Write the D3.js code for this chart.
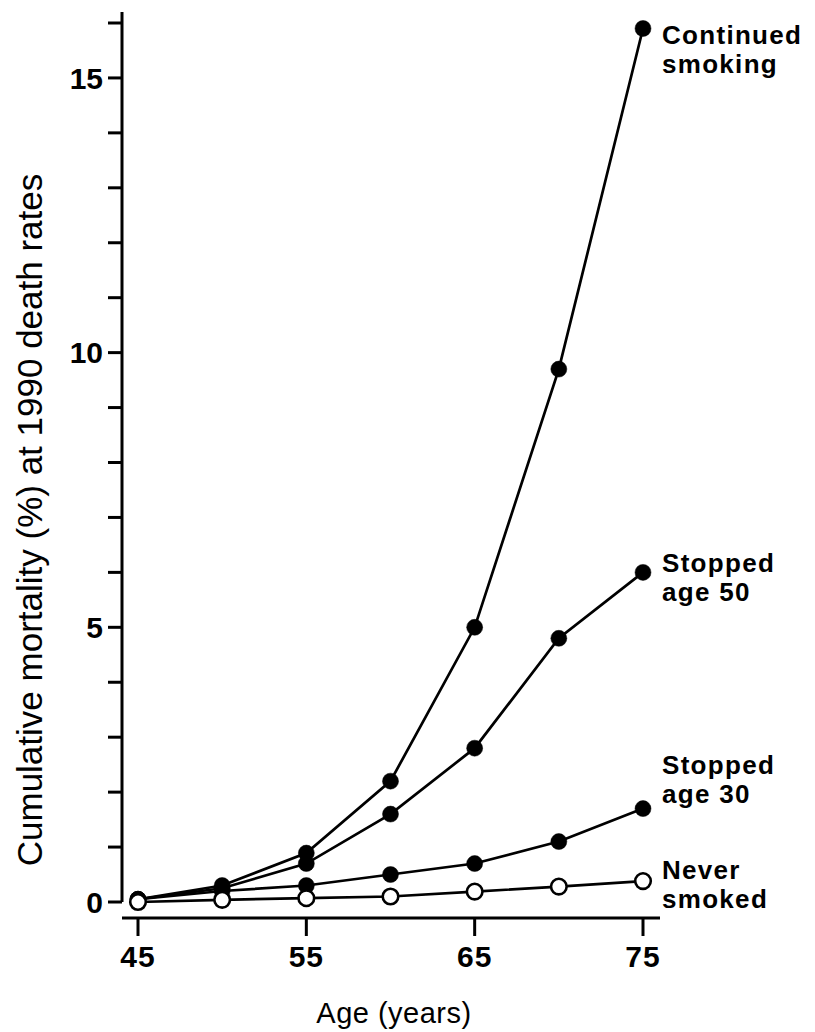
<!DOCTYPE html>
<html><head><meta charset="utf-8">
<script src="https://cdn.jsdelivr.net/npm/d3@7"></script>
<style>
body{margin:0;background:#fff;}
svg{display:block;}
text{font-family:"Liberation Sans",Arial,Helvetica,sans-serif;fill:#000;}
</style></head>
<body>
<svg id="chart" width="815" height="1032"></svg>
<script>
const ages = [45, 50, 55, 60, 65, 70, 75];
const continuedSmoking = [0.05, 0.3, 0.89, 2.2, 5.0, 9.7, 15.9];
const stoppedAge50 = [0.05, 0.25, 0.7, 1.6, 2.8, 4.8, 6.0];
const stoppedAge30 = [0.05, 0.2, 0.3, 0.5, 0.7, 1.1, 1.7];
const neverSmoked = [0.0, 0.04, 0.07, 0.1, 0.19, 0.28, 0.38];
const seriesNames = [["Continued", "smoking"], ["Stopped", "age 50"], ["Stopped", "age 30"], ["Never", "smoked"]];
const xTickLabels = [45, 55, 65, 75];
const yTickLabels = [0, 5, 10, 15];
const yMinorTicks = d3.range(0, 17);

const series = [
  {name: seriesNames[0], values: continuedSmoking, open: false, dy: 16},
  {name: seriesNames[1], values: stoppedAge50, open: false, dy: 0},
  {name: seriesNames[2], values: stoppedAge30, open: false, dy: -35},
  {name: seriesNames[3], values: neverSmoked, open: true, dy: -2}
];

const svg = d3.select("#chart");
const x = d3.scaleLinear().domain([45, 75]).range([138, 643]);
const y = d3.scaleLinear().domain([0, 16]).range([902, 23]);

// Y axis
const yAxisX = 122;
const gy = svg.append("g").attr("transform", `translate(${yAxisX},0)`);
gy.append("line").attr("x1", 0).attr("x2", 0).attr("y1", 12).attr("y2", y(0))
  .attr("stroke", "#000").attr("stroke-width", 3);
gy.selectAll("line.tick").data(yMinorTicks).join("line").attr("class", "tick")
  .attr("x1", -14).attr("x2", 0).attr("y1", d => y(d)).attr("y2", d => y(d))
  .attr("stroke", "#000").attr("stroke-width", 3);
gy.selectAll("text.tl").data(yTickLabels).join("text").attr("class", "tl")
  .attr("x", -19).attr("y", d => y(d)).attr("dy", "0.36em")
  .attr("text-anchor", "end").attr("font-size", 30).attr("font-weight", "bold")
  .text(d => d);

// X axis
const xAxisY = 918;
const gx = svg.append("g").attr("transform", `translate(0,${xAxisY})`);
gx.append("line").attr("x1", yAxisX).attr("x2", 660).attr("y1", 0).attr("y2", 0)
  .attr("stroke", "#000").attr("stroke-width", 3);
gx.selectAll("line.tick").data(xTickLabels).join("line").attr("class", "tick")
  .attr("x1", d => x(d)).attr("x2", d => x(d)).attr("y1", 0).attr("y2", 18)
  .attr("stroke", "#000").attr("stroke-width", 3);
gx.selectAll("text.tl").data(xTickLabels).join("text").attr("class", "tl")
  .attr("x", d => x(d)).attr("y", 49)
  .attr("text-anchor", "middle").attr("font-size", 30).attr("font-weight", "bold")
  .attr("letter-spacing", 1)
  .text(d => d);

// Axis titles
svg.append("text").attr("x", 394).attr("y", 1023).attr("text-anchor", "middle")
  .attr("font-size", 29).attr("letter-spacing", 0.5).text("Age (years)");
svg.append("text").attr("transform", "translate(42,520) rotate(-90)")
  .attr("text-anchor", "middle").attr("font-size", 35)
  .text("Cumulative mortality (%) at 1990 death rates");

// Lines & points
const line = d3.line().x((d, i) => x(ages[i])).y(d => y(d));
const g = svg.append("g");
series.forEach(s => {
  g.append("path").attr("d", line(s.values)).attr("fill", "none")
    .attr("stroke", "#000").attr("stroke-width", 2.7);
});
// draw filled first, then open on top
[...series].sort((a, b) => (a.open ? 1 : 0) - (b.open ? 1 : 0)).forEach(s => {
  g.selectAll(null).data(s.values).join("circle")
    .attr("cx", (d, i) => x(ages[i])).attr("cy", d => y(d))
    .attr("r", s.open ? 7.8 : 8)
    .attr("fill", s.open ? "#fff" : "#000")
    .attr("stroke", "#000").attr("stroke-width", s.open ? 2.6 : 0.5);
});

// Series labels
series.forEach(s => {
  const last = s.values[s.values.length - 1];
  const t = svg.append("text").attr("x", 662).attr("y", y(last) + s.dy)
    .attr("font-size", 26).attr("font-weight", "bold").attr("letter-spacing", 1.3);
  t.append("tspan").attr("x", 662).text(s.name[0]);
  t.append("tspan").attr("x", 662).attr("dy", 29).text(s.name[1]);
});
</script>
</body></html>
